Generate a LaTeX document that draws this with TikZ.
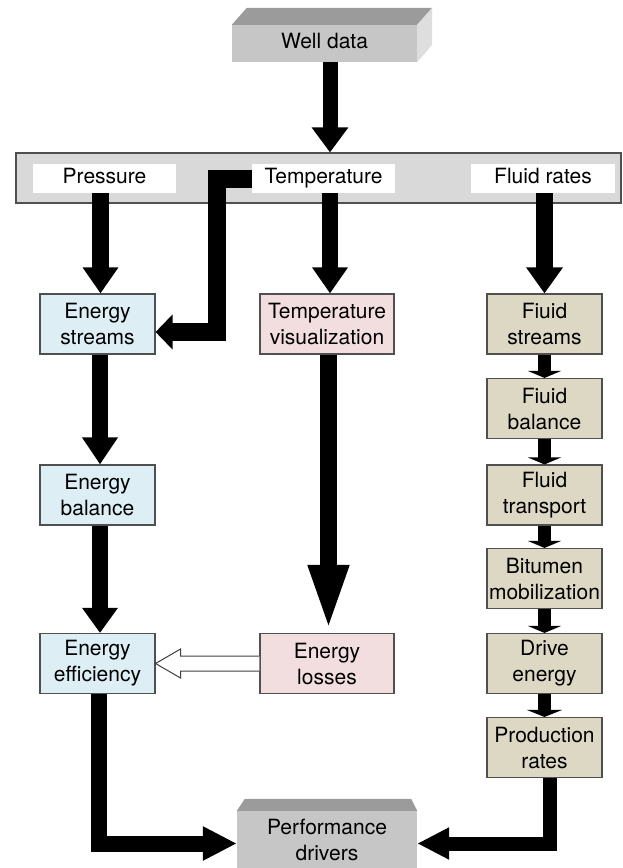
\documentclass[tikz,border=0pt]{standalone}
\usepackage{fontspec}
\setmainfont{TeX Gyre Heros}
\usetikzlibrary{arrows.meta,calc}
\definecolor{eblue}{RGB}{221,238,245}
\definecolor{epink}{RGB}{242,222,223}
\definecolor{ebeige}{RGB}{221,216,196}
\definecolor{barfill}{RGB}{217,217,217}
\definecolor{boxline}{RGB}{80,80,80}
\definecolor{frontgray}{RGB}{198,198,198}
\definecolor{topgray}{RGB}{155,155,155}
\definecolor{sidegray}{RGB}{222,222,222}
\begin{document}
\begin{tikzpicture}[x=1pt,y=-1pt,
  txt/.style={font=\fontsize{21}{26}\selectfont, align=center, inner sep=0pt},
  box/.style={txt, draw=boxline, line width=1.1pt, minimum height=60pt},
  lbox/.style={box, fill=eblue, minimum width=115pt},
  mbox/.style={box, fill=epink, minimum width=134pt},
  rbox/.style={box, fill=ebeige, minimum width=115pt},
  wbox/.style={font=\fontsize{21}{26}\selectfont, inner sep=0pt, fill=white, minimum height=29pt, text height=15pt, text depth=4.5pt},
  gbox/.style={txt, fill=frontgray},
  big/.style={draw=black, line width=#1, line join=miter},
]
\useasboundingbox (0,0) rectangle (622,868);

% top and bottom grey blocks
\node[gbox, minimum width=185pt, minimum height=37pt, text height=15pt, text depth=4.5pt] (well) at (324.5,43.5) {Well data};
\fill[topgray] (well.north west) -- ++(15,-17) -- ($(well.north east)+(15,-17)$) -- (well.north east) -- cycle;
\fill[sidegray] (well.north east) -- ++(15,-17) -- ++(0,37) -- (well.south east) -- cycle;

\node[gbox, minimum width=180pt, minimum height=57pt] (perf) at (327,839.5) {Performance\\drivers};
\fill[topgray] (perf.north west) -- ++(8,-12) -- ($(perf.north east)+(-6,-12)$) -- (perf.north east) -- cycle;

% data bar
\node[draw=boxline, line width=1.1pt, fill=barfill, minimum width=605pt, minimum height=50pt, inner sep=0pt] (bar) at (318.5,178) {};
\node[wbox, minimum width=143pt] (pres) at (104.5,178.5) {Pressure};
\node[wbox, minimum width=143pt] (temp) at (323.5,178.5) {Temperature};
\node[wbox, minimum width=144pt] (flr) at (543,178.5) {Fluid rates};

% left column
\node[lbox] (es) at (97.5,324) {Energy\\streams};
\node[lbox] (eb) at (97.5,495) {Energy\\balance};
\node[lbox] (ee) at (97.5,663.5) {Energy\\efficiency};

% middle column
\node[mbox] (tv) at (327,324) {Temperature\\visualization};
\node[mbox] (el) at (327,663.5) {Energy\\losses};

% right column
\node[rbox] (fs) at (544.5,324) {Fiuid\\streams};
\node[rbox] (fb) at (544.5,408.5) {Fiuid\\balance};
\node[rbox] (ft) at (544.5,495) {Fluid\\transport};
\node[rbox] (bm) at (544.5,578.5) {Bitumen\\mobilization};
\node[rbox] (de) at (544.5,663.5) {Drive\\energy};
\node[rbox] (pr) at (544.5,747.5) {Production\\rates};

% arrows
\draw[big=15pt, -{Triangle[width=35pt,length=25pt]}] ($(well.south)+(5.5,0)$) -- ($(bar.north -| well.south)+(5.5,0)$);
\draw[big=17pt, -{Triangle[width=34pt,length=26pt]}] ($(es.north |- pres.south)+(3,0)$) -- ($(es.north)+(3,0)$);
\draw[big=16pt, -{Triangle[width=34pt,length=26pt]}] ($(tv.north |- temp.south)+(3,0)$) -- ($(tv.north)+(3,0)$);
\draw[big=17pt, -{Triangle[width=35pt,length=26pt]}] (fs.north |- flr.south) -- (fs.north);
\draw[big=18pt, -{Triangle[width=34pt,length=17pt]}] (temp.west) -- ++(-35,0) |- ($(es.east)+(0,8)$);

\draw[big=16pt, -{Triangle[width=34pt,length=27pt]}] ($(es.south)+(2.5,0)$) -- ($(eb.north)+(2.5,0)$);
\draw[big=16pt, -{Triangle[width=34pt,length=25pt]}] ($(eb.south)+(2.5,0)$) -- ($(ee.north)+(2.5,0)$);
\draw[big=17pt, -{Triangle[width=36pt,length=68pt]}] ($(tv.south)+(1.5,0)$) -- ($(el.north)+(1.5,0)$);

\draw[big=13pt, -{Triangle[width=33pt,length=7pt]}] (fs.south) -- (fb.north);
\draw[big=13pt, -{Triangle[width=33pt,length=7pt]}] (fb.south) -- (ft.north);
\draw[big=13pt, -{Triangle[width=33pt,length=7pt]}] (ft.south) -- (bm.north);
\draw[big=13pt, -{Triangle[width=33pt,length=7pt]}] (bm.south) -- (de.north);
\draw[big=13pt, -{Triangle[width=35pt,length=7pt]}] (de.south) -- (pr.north);

\draw[big=16pt, -{Triangle[width=32pt,length=34pt]}] ($(ee.south)+(1.5,0)$) |- ($(perf.west)+(0,4)$);
\draw[big=14pt, -{Triangle[width=30pt,length=32pt]}] ($(pr.south)+(5,0)$) |- ($(perf.east)+(0,4)$);

% hollow arrow
\draw[draw=black!75, fill=white, line width=1pt, line join=miter]
  let \p1=(el.west), \p2=(ee.east) in
  (\x1,\y1+7.5pt) -- (\x2+25pt,\y1+7.5pt) -- (\x2+25pt,\y1+14.5pt) -- (\x2,\y1)
  -- (\x2+25pt,\y1-14.5pt) -- (\x2+25pt,\y1-7.5pt) -- (\x1,\y1-7.5pt);
\end{tikzpicture}
\end{document}
